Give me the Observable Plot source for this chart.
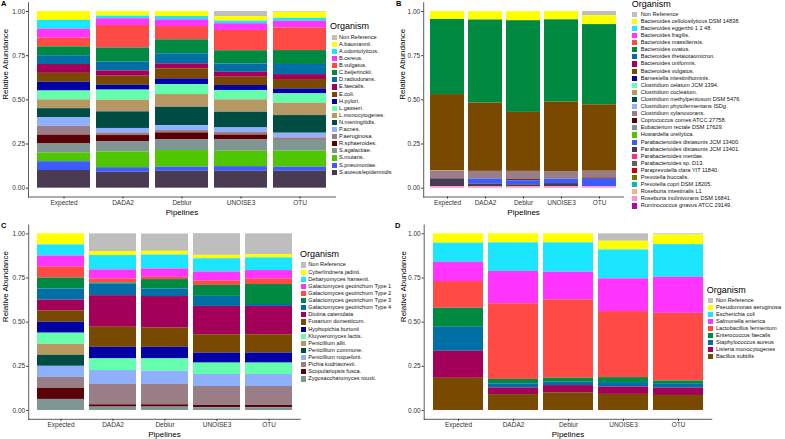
<!DOCTYPE html>
<html>
<head>
<meta charset="utf-8">
<script src="https://cdn.jsdelivr.net/npm/d3@7"></script>
<script src="https://cdn.jsdelivr.net/npm/@observablehq/plot@0.6"></script>
<style>
  html, body { margin: 0; padding: 0; background: #fff; }
  #chart { position: relative; width: 785px; height: 439px; overflow: hidden; background: #fff; }
  .abs { position: absolute; white-space: nowrap; }
</style>
</head>
<body>
<div id="chart"></div>
<script>
const FONT = '"Liberation Sans", Arial, Helvetica, sans-serif';

// Shared x categories
const pipelines = ["Expected", "DADA2", "Deblur", "UNOISE3", "OTU"];

// Shared fill palette (legend order)
const palette = ["#BEBEBE","#FFFF00","#1CE6FF","#FF34FF","#FF4A46","#008941","#006FA6","#A30059",
  "#7A4900","#0000A6","#63FFAC","#B79762","#004D43","#8FB0FF","#997D87","#5A0007","#809693",
  "#4FC601","#3B5DFF","#4A3B53","#FF2F80","#61615A","#BA0900","#6B7900","#00C2A0","#FFAA92",
  "#FF90C9","#B903AA"];

const yTicks = [0, 0.25, 0.5, 0.75, 1];

// ---------- Panel A ----------
const aOrganisms = ["Non Reference","A.baumannii.","A.odontolyticus.","B.cereus.","B.vulgatus.",
  "C.beijerinckii.","D.radiodurans.","E.faecalis.","E.coli.","H.pylori.","L.gasseri.",
  "L.monocytogenes.","N.meningitidis.","P.acnes.","P.aeruginosa.","R.sphaeroides.",
  "S.agalactiae.","S.mutans.","S.pneumoniae.","S.aureus/epidermidis"];
const aExpected = [0,0.05,0.05,0.05,0.05,0.05,0.05,0.05,0.05,0.05,0.05,0.05,0.05,0.05,0.05,0.05,0.05,0.05,0.05,0.10];
const aDADA2    = [0,0.026,0.015,0.038,0.127,0.079,0.051,0.030,0.051,0.028,0.057,0.066,0.094,0.025,0.015,0.036,0.057,0.089,0.025,0.091];
const aDeblur   = [0,0.028,0.019,0.038,0.075,0.079,0.057,0.028,0.057,0.032,0.057,0.072,0.104,0.028,0.013,0.038,0.062,0.094,0.023,0.096];
const aUNOISE3  = [0.028,0.026,0.015,0.038,0.115,0.075,0.047,0.028,0.047,0.028,0.053,0.070,0.089,0.025,0.015,0.028,0.064,0.087,0.026,0.096];
const aOTU      = [0.004,0.034,0.017,0.038,0.128,0.079,0.057,0.028,0.053,0.028,0.053,0.070,0.100,0.026,0.015,0,0.060,0.091,0.023,0.096];

// ---------- Panel B ----------
const bOrganisms = ["Non Reference","Bacteroides cellulosilyticus DSM 14838.","Bacteroides eggerthii 1 2 48.",
  "Bacteroides fragilis.","Bacteroides massiliensis.","Bacteroides ovatus.","Bacteroides thetaiotaomicron.",
  "Bacteroides uniformis.","Bacteroides vulgatus.","Barnesiella intestinihominis.","Clostridium celatum JCM 1394.",
  "Clostridium cocleatum.","Clostridium methylpentosum DSM 5476.","Clostridium phytofermentans ISDg.",
  "Clostridium xylanovorans.","Coprococcus comes ATCC 27758.","Eubacterium rectale DSM 17629.",
  "Howardella ureilytica.","Parabacteroides distasonis JCM 13400.","Parabacteroides distasonis JCM 13401.",
  "Parabacteroides merdae.","Parabacteroides sp. D13.","Paraprevotella clara YIT 11840.","Prevotella buccalis.",
  "Prevotella copri DSM 18205.","Roseburia intestinalis L1","Roseburia inulinivorans DSM 16841.",
  "Ruminococcus gnavus ATCC 29149."];
//                 NR    yel   egg frag mas  ovatus theta unif vulgatus Barn cel  cocl  meth phyt xylan copro eub how  13400 13401 merd D13 clara bucc copri int inulin gnav
const bExpected = [0,    0.045,0,  0,   0,   0.425, 0,    0,   0.430,   0,   0,   0.004,0,   0,   0.043,0,    0,  0,   0,    0.045,0,   0,  0,    0,   0,    0,  0.008, 0];
const bDADA2    = [0,    0.047,0,  0,   0,   0.470, 0,    0,   0.387,   0,   0,   0,    0,   0,   0.043,0,    0,  0,   0.028,0.015,0,   0,  0,    0,   0,    0,  0.009, 0];
const bDeblur   = [0,    0.051,0,  0,   0,   0.519, 0,    0,   0.334,   0,   0,   0,    0,   0,   0.047,0.006,0,  0,   0.023,0.011,0,   0,  0,    0,   0,    0,  0.008, 0];
const bUNOISE3  = [0,    0.047,0,  0,   0,   0.466, 0,    0,   0.393,   0,   0,   0,    0,   0,   0.043,0,    0,  0,   0.025,0.017,0,   0,  0,    0,   0,    0,  0.009, 0];
const bOTU      = [0.023,0.051,0,  0,   0,   0.454, 0,    0,   0.376,   0,   0,   0,    0,   0,   0.039,0.006,0,  0,   0.042,0,    0,   0,  0,    0,   0,    0,  0.009, 0];

// ---------- Panel C ----------
const cOrganisms = ["Non Reference","Cyberlindnera jadinii.","Debaryomyces hansenii.",
  "Galactomyces geotrichum Type 1","Galactomyces geotrichum Type 2","Galactomyces geotrichum Type 3",
  "Galactomyces geotrichum Type 4","Diutina catenulata","Fusarium domesticum.","Hyphopichia burtonii",
  "Kluyveromyces lactis.","Penicillium allii.","Penicillium commune.","Penicillium roqueforti.",
  "Pichia kudriavzevii.","Scopulariopsis fusca.","Zygosaccharomyces rouxii."];
const cExpected = [0,0.0625,0.0625,0.0625,0.0625,0.0625,0.0625,0.0625,0.0625,0.0625,0.0625,0.0625,0.0625,0.0625,0.0625,0.0625,0.0625];
const cDADA2    = [0.100,0.023,0.081,0.051,0.023,0.006,0.066,0.179,0.113,0.066,0.066,0,0,0.079,0.115,0.013,0.019];
const cDeblur   = [0.098,0.021,0.079,0.047,0.013,0.053,0.043,0.179,0.108,0.066,0.070,0,0,0.075,0.115,0.013,0.019];
const cUNOISE3  = [0.123,0.019,0.075,0.051,0.025,0.062,0.057,0.160,0.104,0.057,0.064,0,0,0.068,0.108,0.013,0.015];
const cOTU      = [0.117,0.019,0.072,0.047,0.032,0.113,0.011,0.160,0.104,0.057,0.064,0,0,0.068,0.108,0.013,0.015];

// ---------- Panel D ----------
const dOrganisms = ["Non Reference","Pseudomonas aeruginosa","Escherichia coli","Salmonella enterica",
  "Lactobacillus fermentum","Enterococcus faecalis","Staphylococcus aureus","Listeria monocytogenes","Bacillus subtilis"];
const dExpected = [0,0.053,0.108,0.109,0.151,0.108,0.136,0.153,0.182];
const dDADA2    = [0,0.051,0.162,0.183,0.428,0.025,0.023,0.038,0.090];
const dDeblur   = [0,0.051,0.166,0.157,0.443,0.023,0.019,0.043,0.098];
const dUNOISE3  = [0.042,0.049,0.164,0.185,0.374,0.028,0.025,0.042,0.091];
const dOTU      = [0.006,0.055,0.185,0.204,0.383,0.019,0.021,0.042,0.085];

const chart = document.getElementById("chart");

function addText(txt, x, y, css) {
  const el = document.createElement("div");
  el.className = "abs";
  el.textContent = txt;
  el.style.cssText += `left:${x}px;top:${y}px;font-family:${FONT};` + (css || "");
  chart.appendChild(el);
  return el;
}

function panel(cfg) {
  const series = [cfg.expected, cfg.dada2, cfg.deblur, cfg.unoise3, cfg.otu];
  const rows = [];
  series.forEach((vals, j) => vals.forEach((v, i) => {
    if (v > 0) rows.push({pipeline: pipelines[j], organism: cfg.organisms[i], value: v});
  }));
  const svg = Plot.plot({
    width: cfg.width, height: cfg.height,
    marginLeft: cfg.mL, marginRight: cfg.mR, marginTop: cfg.mT, marginBottom: cfg.mB,
    style: {fontFamily: FONT, fontSize: "6.5px", color: "#333", background: "transparent", overflow: "visible"},
    x: {domain: pipelines, paddingInner: 0.1, paddingOuter: 0.15, label: null},
    y: {domain: [-0.05, 1.05], label: null},
    color: {domain: cfg.organisms, range: palette.slice(0, cfg.organisms.length)},
    marks: [
      Plot.barY(rows, {x: "pipeline", y: "value", fill: "organism",
        order: [...cfg.organisms].reverse()}),
      Plot.axisY(yTicks, {tickFormat: d3.format(".2f"), tickSize: 2, tickPadding: 1.5, label: null, fontSize: 6.5}),
      Plot.axisX({tickSize: 2, tickPadding: 1.5, label: null, fontSize: 6.5}),
      Plot.frame({anchor: "left", stroke: "#333", strokeWidth: 0.8}),
      Plot.frame({anchor: "bottom", stroke: "#333", strokeWidth: 0.8}),
      Plot.text(["Pipelines"], {text: d => d, frameAnchor: "bottom", dy: 15.5, fontSize: 8, fill: "#000", lineAnchor: "middle"}),
      Plot.text(["Relative Abundance"], {text: d => d, frameAnchor: "left", rotate: -90, dx: cfg.ylabDx, fontSize: 8, fill: "#000", lineAnchor: "middle"})
    ]
  });
  svg.style.position = "absolute";
  svg.style.left = cfg.left + "px";
  svg.style.top = cfg.top + "px";
  chart.appendChild(svg);

  // panel letter
  addText(cfg.letter, cfg.letterX, cfg.letterY, "font-size:7.5px;font-weight:bold;line-height:8px;color:#000;");

  // legend
  const L = cfg.legend;
  addText("Organism", L.titleX, L.titleY - 5.5, "font-size:9px;line-height:11px;color:#000;");
  cfg.organisms.forEach((name, i) => {
    const cy = L.firstY + i * L.step;
    const sw = document.createElement("div");
    sw.className = "abs";
    sw.style.cssText += `left:${L.swatchX}px;top:${cy - 2.6}px;width:5.2px;height:5.2px;background:${palette[i]};`;
    chart.appendChild(sw);
    addText(name, L.labelX, cy - 3.55, "font-size:5.6px;line-height:7.1px;color:#111;");
  });
}

panel({organisms: aOrganisms, expected: aExpected, dada2: aDADA2, deblur: aDeblur, unoise3: aUNOISE3, otu: aOTU,
  left: 0, top: 0, width: 340, height: 220, mL: 28, mR: 5, mT: 2.2, mB: 23.5, ylabDx: -23,
  letter: "A", letterX: 1, letterY: 0,
  legend: {titleX: 330, titleY: 26.7, swatchX: 331.7, labelX: 339, firstY: 37.3, step: 7.1}});

panel({organisms: bOrganisms, expected: bExpected, dada2: bDADA2, deblur: bDeblur, unoise3: bUNOISE3, otu: bOTU,
  left: 390, top: 0, width: 240, height: 220, mL: 33.2, mR: 7, mT: 2.2, mB: 23.5, ylabDx: -21,
  letter: "B", letterX: 396, letterY: 0,
  legend: {titleX: 631.7, titleY: 4.7, swatchX: 632.3, labelX: 640.7, firstY: 14.3, step: 7.1}});

panel({organisms: cOrganisms, expected: cExpected, dada2: cDADA2, deblur: cDeblur, unoise3: cUNOISE3, otu: cOTU,
  left: 0, top: 220, width: 302, height: 219, mL: 28.2, mR: 2.3, mT: 4.5, mB: 20.2, ylabDx: -23,
  letter: "C", letterX: 1, letterY: 222,
  legend: {titleX: 300, titleY: 254.3, swatchX: 300.7, labelX: 308.3, firstY: 265, step: 7.125}});

panel({organisms: dOrganisms, expected: dExpected, dada2: dDADA2, deblur: dDeblur, unoise3: dUNOISE3, otu: dOTU,
  left: 390, top: 220, width: 720 - 390, height: 219, mL: 33.7, mR: 8.7, mT: 4.5, mB: 20.2, ylabDx: -21,
  letter: "D", letterX: 395, letterY: 222,
  legend: {titleX: 706.7, titleY: 290, swatchX: 708.3, labelX: 716, firstY: 300.3, step: 7.05}});
</script>
</body>
</html>
